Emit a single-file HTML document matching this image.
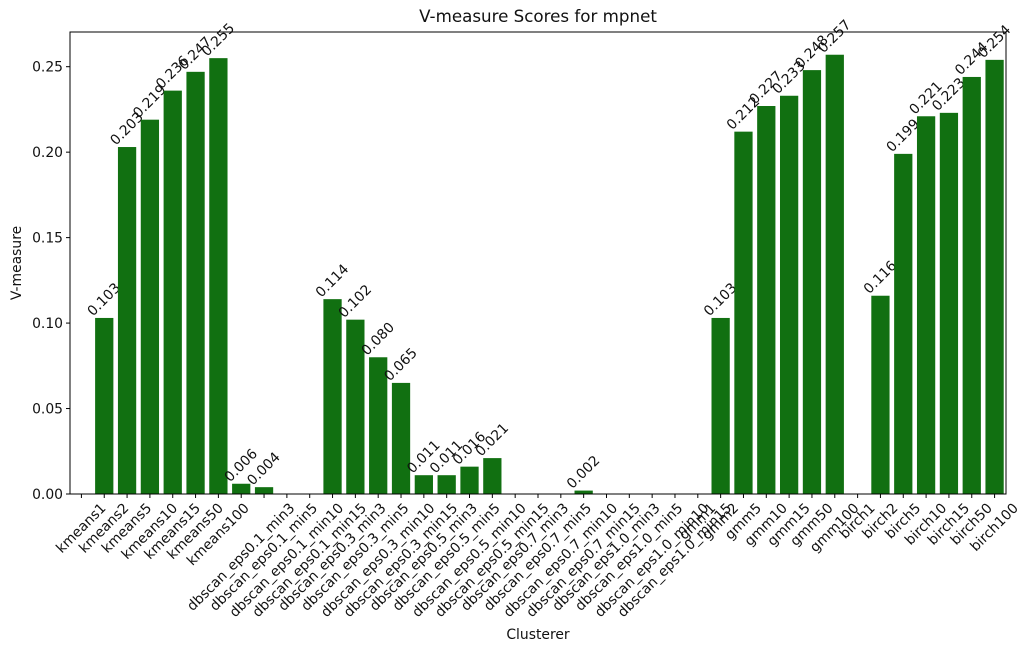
<!DOCTYPE html>
<html><head><meta charset="utf-8"><style>
body{margin:0;background:#fff;font-family:"Liberation Sans","DejaVu Sans",sans-serif}
svg text{font-family:"DejaVu Sans","Liberation Sans",sans-serif;fill:#111}
</style></head><body>
<svg id="chart" width="1025" height="652" viewBox="0 0 1025 652"></svg>
<script>
const categories=["kmeans1","kmeans2","kmeans5","kmeans10","kmeans15","kmeans50","kmeans100",
"dbscan_eps0.1_min3","dbscan_eps0.1_min5","dbscan_eps0.1_min10","dbscan_eps0.1_min15",
"dbscan_eps0.3_min3","dbscan_eps0.3_min5","dbscan_eps0.3_min10","dbscan_eps0.3_min15",
"dbscan_eps0.5_min3","dbscan_eps0.5_min5","dbscan_eps0.5_min10","dbscan_eps0.5_min15",
"dbscan_eps0.7_min3","dbscan_eps0.7_min5","dbscan_eps0.7_min10","dbscan_eps0.7_min15",
"dbscan_eps1.0_min3","dbscan_eps1.0_min5","dbscan_eps1.0_min10","dbscan_eps1.0_min15",
"gmm1","gmm2","gmm5","gmm10","gmm15","gmm50","gmm100",
"birch1","birch2","birch5","birch10","birch15","birch50","birch100"];
const values=[0,0.103,0.203,0.219,0.236,0.247,0.255,0.006,0.004,0,0,0.114,0.102,0.080,0.065,0.011,0.011,0.016,0.021,0,0,0,0.002,0,0,0,0,0,0.103,0.212,0.227,0.233,0.248,0.257,0,0.116,0.199,0.221,0.223,0.244,0.254];
const yTicks=[0,0.05,0.10,0.15,0.20,0.25];
const yTickLabels=["0.00","0.05","0.10","0.15","0.20","0.25"];

const NS="http://www.w3.org/2000/svg";
const svg=document.getElementById('chart');
const L=70,R=1006,T=32,B=494,YMAX=0.2703;
const FS=13.9;
const step=(R-L)/categories.length;
const xc=i=>L+step*(i+0.5);
const y=v=>B-(v/YMAX)*(B-T);
function el(tag,attrs,parent){const e=document.createElementNS(NS,tag);for(const k in attrs)e.setAttribute(k,attrs[k]);(parent||svg).appendChild(e);return e;}

values.forEach((v,i)=>{
  if(v<=0)return;
  const r=el('rect',{x:xc(i)-step*0.4,y:y(v),width:step*0.8,height:B-y(v),fill:'#117011'});
  
  
  const t=el('text',{'font-size':FS,'text-anchor':'middle'});
  t.textContent=v.toFixed(3);
  
  
  const len=t.getComputedTextLength();
  const cx=xc(i), cy=y(v)-4-len*0.707/2;
  t.setAttribute('x',cx);t.setAttribute('y',cy+4);
  t.setAttribute('transform',`rotate(-45 ${cx} ${cy})`);
});

el('rect',{x:L,y:T,width:R-L,height:B-T,fill:'none',stroke:'#000','stroke-width':1});

yTicks.forEach((v,i)=>{
  const ln=el('line',{x1:L-4,x2:L,y1:y(v),y2:y(v),stroke:'#000'});
  
  
  const t=el('text',{x:L-7,y:y(v)+5,'font-size':FS,'text-anchor':'end'});
  t.textContent=yTickLabels[i];
  
  
});

categories.forEach((c,i)=>{
  const x=xc(i);
  const ln=el('line',{x1:x,x2:x,y1:B,y2:B+4,stroke:'#000'});
  
  
  const t=el('text',{'font-size':FS,'text-anchor':'middle'});
  t.textContent=c;
  
  
  const len=t.getComputedTextLength();
  const cy=B+8+len*0.707/2+4;
  t.setAttribute('x',x);t.setAttribute('y',cy+4);
  t.setAttribute('transform',`rotate(-45 ${x} ${cy})`);
});

const title=el('text',{x:(L+R)/2,y:22,'font-size':16.7,'text-anchor':'middle'});
title.textContent='V-measure Scores for mpnet';


const xl=el('text',{x:(L+R)/2,y:639,'font-size':FS,'text-anchor':'middle'});
xl.textContent='Clusterer';


const yl=el('text',{x:21,y:(T+B)/2,'font-size':FS,'text-anchor':'middle',transform:`rotate(-90 21 ${(T+B)/2})`});
yl.textContent='V-measure';


</script>
</body></html>
